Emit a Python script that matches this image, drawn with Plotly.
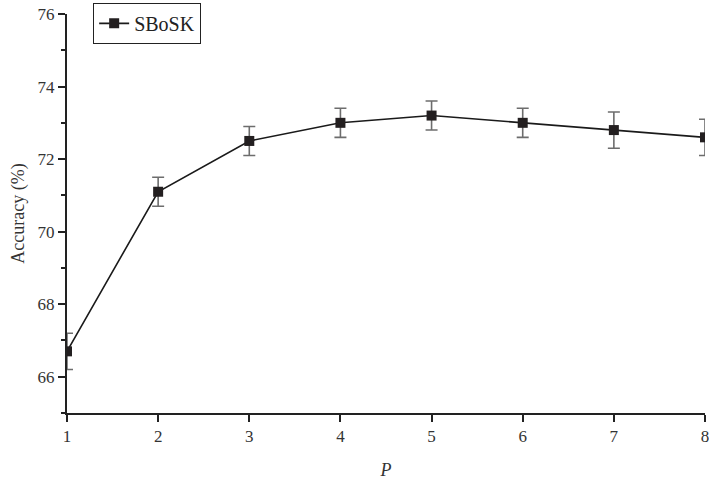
import plotly.graph_objects as go

P = [1, 2, 3, 4, 5, 6, 7, 8]
accuracy = [66.7, 71.1, 72.5, 73.0, 73.2, 73.0, 72.8, 72.6]
err = [0.5, 0.4, 0.4, 0.4, 0.4, 0.4, 0.5, 0.5]
series_name = "SBoSK"

FONT = "Liberation Serif"

fig = go.Figure()
fig.add_trace(go.Scatter(
    x=P, y=accuracy, name=series_name, mode="lines+markers",
    line=dict(color="#1a1a1a", width=1.6),
    marker=dict(symbol="square", size=10, color="#231f20"),
    error_y=dict(type="data", array=err, visible=True, color="#6d6d6d", thickness=1.6, width=6),
))

fig.update_layout(
    width=709, height=484,
    margin=dict(l=67, r=4, t=14, b=71, autoexpand=False),
    paper_bgcolor="white", plot_bgcolor="white",
    font=dict(family=FONT, size=17, color="#222"),
    showlegend=True,
    legend=dict(x=0.041, y=1.028, xanchor="left", yanchor="top",
                bordercolor="#222", borderwidth=1, bgcolor="white",
                font=dict(family=FONT, size=20, color="#222"),
                itemwidth=30, tracegroupgap=0),
    xaxis=dict(range=[1, 8], tickmode="linear", tick0=1, dtick=1, automargin=False,
               ticklabeloverflow="allow",
               showgrid=False, zeroline=False, showline=True, linecolor="#222", linewidth=2,
               ticks="outside", ticklen=7, tickwidth=2, tickcolor="#222",
               tickfont=dict(family=FONT, size=17, color="#333"),
               title=dict(text="<i>P</i>", font=dict(family=FONT, size=18, color="#333"), standoff=18)),
    yaxis=dict(range=[65, 76], tickmode="linear", tick0=66, dtick=2, automargin=False,
               showgrid=False, zeroline=False, showline=True, linecolor="#222", linewidth=2,
               ticks="outside", ticklen=7, tickwidth=2, tickcolor="#222",
               tickfont=dict(family=FONT, size=17, color="#333"),
               minor=dict(tickmode="linear", tick0=65, dtick=1, ticks="outside", ticklen=4,
                          tickwidth=2, tickcolor="#222", showgrid=False),
               title=dict(text="Accuracy (%)", font=dict(family=FONT, size=18, color="#333"), standoff=8)),
)

fig.write_html("out.html")
